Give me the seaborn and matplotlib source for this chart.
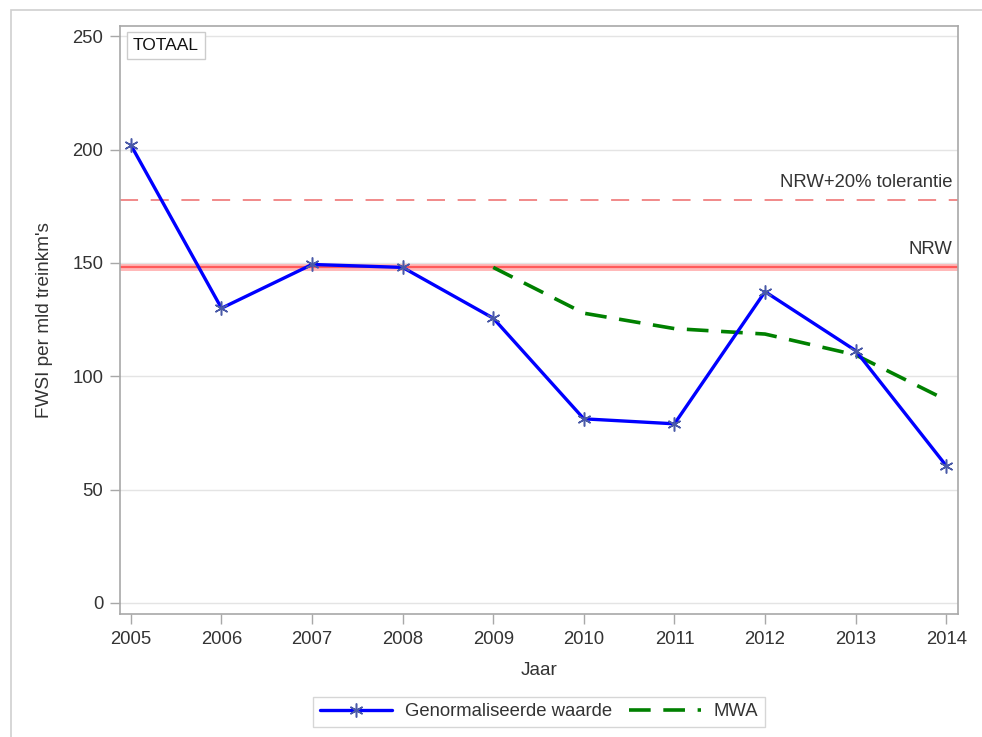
import numpy as np
import pandas as pd
import matplotlib
matplotlib.use("Agg")
import matplotlib.pyplot as plt
import matplotlib.patches as mpatches
import seaborn as sns

# data
jaren = [2005, 2006, 2007, 2008, 2009, 2010, 2011, 2012, 2013, 2014]
genormaliseerd = [202, 130, 149.3, 148, 125.6, 81.2, 79, 137.3, 111.3, 60.5]
mwa_jaren = [2009, 2010, 2011, 2012, 2013, 2014]
mwa = [148, 127.8, 121, 118.6, 109.4, 89.5]
nrw = 148
nrw_tol = 177.6

sns.set_style("white")
plt.rcParams["font.family"] = ["Liberation Sans", "DejaVu Sans"]

text_col = "#333333"
grid_col = "#e4e4e4"
frame_col = "#a8a8a8"
fs = 13.3

fig = plt.figure(figsize=(9.82, 7.37), dpi=100)
ax = fig.add_axes([120 / 982, 1 - 614 / 737, (958 - 120) / 982, (614 - 26) / 737])

# outer border of the graph area
fig.patches.append(mpatches.Rectangle((11 / 982, -0.01), 1.0, 1 - 10 / 737 + 0.01,
                                      transform=fig.transFigure, fill=False,
                                      edgecolor="#cfcfcf", linewidth=1.2))

# reference lines
ax.axhline(nrw, color="#ffb8b8", linewidth=5, zorder=1)
ax.axhline(nrw, color="#ff5a5a", linewidth=1.6, zorder=1.1)
ax.axhline(nrw_tol, color="#f08080", linewidth=1.3, dashes=(10, 7), zorder=1)

df = pd.DataFrame({"Jaar": jaren, "Waarde": genormaliseerd})
df_mwa = pd.DataFrame({"Jaar": mwa_jaren, "MWA": mwa})

sns.lineplot(data=df, x="Jaar", y="Waarde", ax=ax, color="#0000ff", linewidth=2.4,
             marker=(6, 2, 0), markersize=10, markeredgecolor="#4a5aa8",
             markeredgewidth=1.1, label="Genormaliseerde waarde", zorder=3)
sns.lineplot(data=df_mwa, x="Jaar", y="MWA", ax=ax, color="#008000", linewidth=2.6,
             dashes=False, label="MWA", zorder=2.5)
ax.lines[-1].set_dashes((6, 3.5))

ax.text(2014.07, nrw_tol + 4, "NRW+20% tolerantie", ha="right", va="bottom",
        fontsize=fs, color=text_col)
ax.text(2014.07, nrw + 4, "NRW", ha="right", va="bottom", fontsize=fs, color=text_col)

ax.text(2005.02, 246, "TOTAAL", ha="left", va="center", fontsize=12.5, color="#111111",
        bbox=dict(boxstyle="square,pad=0.35", facecolor="white", edgecolor="#cccccc",
                  linewidth=1))

ax.set_xlim(2004.88, 2014.13)
ax.set_ylim(-4.9, 254.5)
ax.set_xticks(jaren)
ax.set_yticks([0, 50, 100, 150, 200, 250])
ax.yaxis.grid(True, color=grid_col, linewidth=1)
ax.set_axisbelow(True)

for s in ax.spines.values():
    s.set_color(frame_col)
    s.set_linewidth(1.2)

ax.tick_params(axis="both", direction="out", length=7, width=1, color=frame_col,
               labelsize=fs, labelcolor=text_col, pad=5, left=True, bottom=True)
ax.set_xlabel("Jaar", fontsize=fs + 0.4, color=text_col, labelpad=10)
ax.set_ylabel("FWSI per mld treinkm's", fontsize=fs + 0.4, color=text_col, labelpad=14)

ax.legend(loc="center", bbox_to_anchor=(539 / 982, 1 - 712 / 737),
          bbox_transform=fig.transFigure, ncol=2, frameon=True, fancybox=False,
          edgecolor="#cccccc", fontsize=fs, handlelength=3.9, columnspacing=0.9,
          borderpad=0.35, handletextpad=0.7, labelcolor=text_col)

plt.savefig("out.png", dpi=100)
